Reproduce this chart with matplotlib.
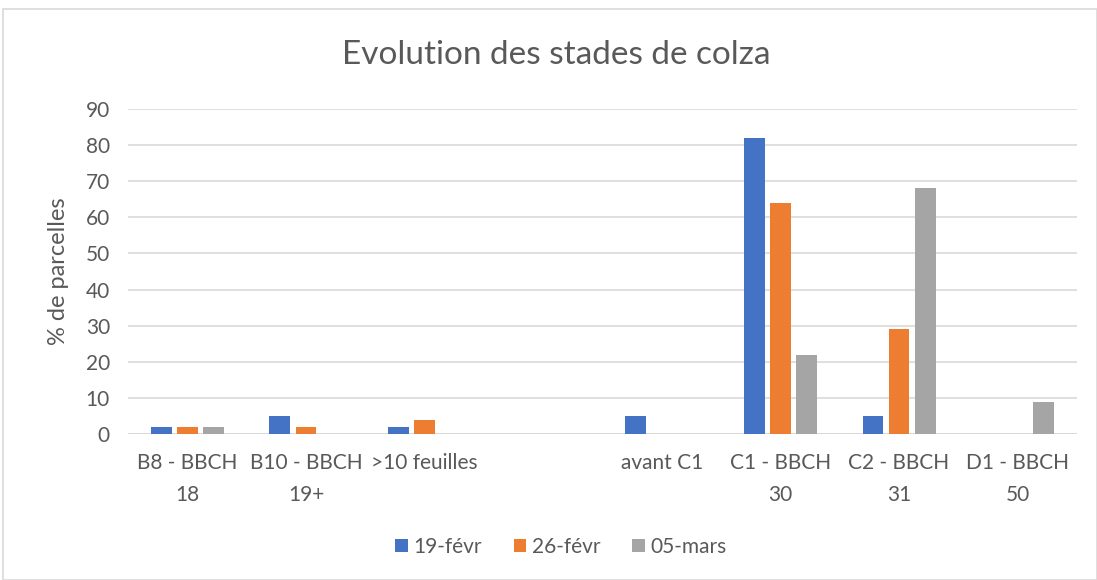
import matplotlib
matplotlib.use("Agg")
import matplotlib.pyplot as plt
from matplotlib.patches import Rectangle
import numpy as np

categories = ["B8 - BBCH\n18", "B10 - BBCH\n19+", ">10 feuilles", "", "avant C1",
              "C1 - BBCH\n30", "C2 - BBCH\n31", "D1 - BBCH\n50"]
series_names = ["19-févr", "26-févr", "05-mars"]
v_19fevr = [2, 5, 2, 0, 5, 82, 5, 0]
v_26fevr = [2, 2, 4, 0, 0, 64, 29, 0]
v_05mars = [2, 0, 0, 0, 0, 22, 68, 9]
yticks = [0, 10, 20, 30, 40, 50, 60, 70, 80, 90]
colors = ["#4472C4", "#ED7D31", "#A5A5A5"]

plt.rcParams['font.family'] = ['Lato', 'DejaVu Sans']
txt = "#595959"

fig = plt.figure(figsize=(10.97, 5.80), dpi=100)
fig.patches.append(Rectangle((3/1097, 0), 1 - 3/1097, 1 - 9/580, transform=fig.transFigure,
                             fill=False, edgecolor="#D9D9D9", linewidth=1.2))
ax = fig.add_axes([128/1097, 1 - 434/580, (1077 - 128)/1097, (434 - 109)/580])

x = np.arange(len(categories))
w = 0.175
off = 0.22
for i, (vals, name) in enumerate(zip([v_19fevr, v_26fevr, v_05mars], series_names)):
    ax.bar(x + (i - 1) * off, vals, width=w, color=colors[i], label=name, zorder=3)

ax.set_xlim(-0.5, len(categories) - 0.5)
ax.set_ylim(0, 90)
ax.set_yticks(yticks)
ax.yaxis.grid(True, color="#D9D9D9", linewidth=1.2, zorder=0)
for s in ax.spines.values():
    s.set_visible(False)
ax.axhline(0, color="#D9D9D9", linewidth=1.2, zorder=2)
ax.tick_params(axis='both', length=0, labelsize=15, colors=txt)
ax.tick_params(axis='y', pad=13)
ax.tick_params(axis='x', pad=14)
ax.set_xticks(x)
ax.set_xticklabels(categories, linespacing=1.75)
ax.set_ylabel("% de parcelles", fontsize=17, color=txt, labelpad=12)

fig.text(0.507, 1 - 55/580, "Evolution des stades de colza", ha="center", va="center",
         fontsize=24, color=txt)

leg = fig.legend(loc="center", bbox_to_anchor=(561/1097, 1 - 547/580), ncol=3, frameon=False,
                 fontsize=15, handlelength=0.6, handleheight=0.6, handletextpad=0.3,
                 columnspacing=1.5)
for t in leg.get_texts():
    t.set_color(txt)

fig.savefig("out.png", dpi=100)
